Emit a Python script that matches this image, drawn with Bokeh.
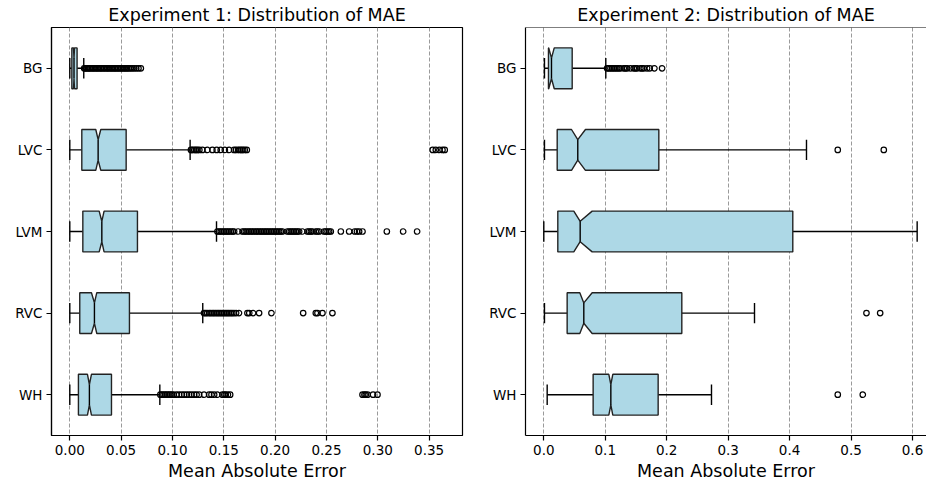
from bokeh.plotting import figure
from bokeh.models import Range1d, FixedTicker, NumeralTickFormatter, Span
from bokeh.layouts import row
from bokeh.embed import file_html
from bokeh.resources import INLINE

categories = ["BG", "LVC", "LVM", "RVC", "WH"]
positions = [1, 2, 3, 4, 5]

# ---------------- Experiment 1 ----------------
exp1_whislo = [0.0, 0.0, 0.0, 0.0, 0.0]
exp1_q1 = [0.0020, 0.0117, 0.0127, 0.0097, 0.0084]
exp1_cilo = [0.0036, 0.0253, 0.0286, 0.0211, 0.0172]
exp1_med = [0.0041, 0.0276, 0.0312, 0.0240, 0.0191]
exp1_cihi = [0.0046, 0.0302, 0.0334, 0.0263, 0.0211]
exp1_q3 = [0.0071, 0.0549, 0.0659, 0.0581, 0.0406]
exp1_whishi = [0.0136, 0.1172, 0.1429, 0.1295, 0.0877]

exp1_fliers_BG = [0.0140, 0.0151, 0.0166, 0.0178, 0.0191, 0.0203, 0.0218, 0.0230, 0.0245,
                  0.0257, 0.0271, 0.0284, 0.0299, 0.0311, 0.0326, 0.0338, 0.0354, 0.0366,
                  0.0381, 0.0393, 0.0409, 0.0420, 0.0436, 0.0448, 0.0463, 0.0475, 0.0491,
                  0.0502, 0.0518, 0.0530, 0.0546, 0.0557, 0.0573, 0.0589, 0.0607, 0.0626,
                  0.0647, 0.0669, 0.0692]
exp1_fliers_LVC = [0.1180, 0.1195, 0.1212, 0.1228, 0.1243, 0.1262, 0.1292, 0.1340, 0.1389,
                   0.1431, 0.1470, 0.1510, 0.1552, 0.1600, 0.1620, 0.1640, 0.1656, 0.1672,
                   0.1688, 0.1704, 0.1724, 0.3535, 0.3565, 0.3600, 0.3630, 0.3652]
exp1_fliers_LVM = [0.1438, 0.1455, 0.1471, 0.1487, 0.1503, 0.1520, 0.1536, 0.1552, 0.1568,
                   0.1585, 0.1601, 0.1640, 0.1682, 0.1698, 0.1714, 0.1731, 0.1747, 0.1763,
                   0.1779, 0.1796, 0.1812, 0.1828, 0.1844, 0.1860, 0.1876, 0.1893, 0.1909,
                   0.1925, 0.1941, 0.1958, 0.1974, 0.1990, 0.2006, 0.2022, 0.2039, 0.2055,
                   0.2071, 0.2120, 0.2137, 0.2153, 0.2169, 0.2185, 0.2202, 0.2218, 0.2234,
                   0.2266, 0.2315, 0.2331, 0.2348, 0.2364, 0.2396, 0.2412, 0.2429, 0.2477,
                   0.2493, 0.2510, 0.2526, 0.2542, 0.2640, 0.2721, 0.2776, 0.2797, 0.2818,
                   0.2851, 0.3088, 0.3247, 0.3383]
exp1_fliers_RVC = [0.1307, 0.1322, 0.1338, 0.1356, 0.1372, 0.1389, 0.1404, 0.1420, 0.1437,
                   0.1453, 0.1470, 0.1486, 0.1502, 0.1518, 0.1534, 0.1550, 0.1566, 0.1582,
                   0.1599, 0.1620, 0.1648, 0.1730, 0.1748, 0.1785, 0.1844, 0.1964, 0.2273,
                   0.2396, 0.2412, 0.2461, 0.2558]
exp1_fliers_WH = [0.0882, 0.0898, 0.0914, 0.0930, 0.0946, 0.0962, 0.0978, 0.0994, 0.1010,
                  0.1040, 0.1065, 0.1090, 0.1114, 0.1140, 0.1162, 0.1185, 0.1211, 0.1235,
                  0.1260, 0.1308, 0.1357, 0.1380, 0.1406, 0.1438, 0.1487, 0.1505, 0.1519,
                  0.1540, 0.1562, 0.2851, 0.2870, 0.2883, 0.2900, 0.2954, 0.2997]

# ---------------- Experiment 2 ----------------
exp2_whislo = [0.0011, 0.0011, 0.0000, 0.0011, 0.0055]
exp2_q1 = [0.0076, 0.0218, 0.0228, 0.0380, 0.0803]
exp2_cilo = [0.0080, 0.0451, 0.0488, 0.0586, 0.1058]
exp2_med = [0.0125, 0.0553, 0.0592, 0.0651, 0.1091]
exp2_cihi = [0.0170, 0.0678, 0.0787, 0.0787, 0.1123]
exp2_q3 = [0.0462, 0.1872, 0.4052, 0.2246, 0.1861]
exp2_whishi = [0.1009, 0.4275, 0.6076, 0.3429, 0.2729]

exp2_fliers_BG = [0.1030, 0.1057, 0.1084, 0.1111, 0.1138, 0.1165, 0.1193, 0.1220, 0.1247,
                  0.1301, 0.1328, 0.1355, 0.1410, 0.1464, 0.1491, 0.1518, 0.1572, 0.1600,
                  0.1627, 0.1681, 0.1724, 0.1800, 0.1925]
exp2_fliers_LVC = [0.4784, 0.5533]
exp2_fliers_LVM = []
exp2_fliers_RVC = [0.5251, 0.5474]
exp2_fliers_WH = [0.4784, 0.5191]

exp1_ticks = [0.0, 0.05, 0.10, 0.15, 0.20, 0.25, 0.30, 0.35]
exp2_ticks = [0.0, 0.1, 0.2, 0.3, 0.4, 0.5, 0.6]

FONT = "DejaVu Sans"
BOX_W = 0.5


def make_fig(title, whislo, q1, cilo, med, cihi, q3, whishi, fliers, xr, ticks, fmt,
             frame_width, border_left, border_right, full_outline):
    p = figure(frame_width=frame_width, frame_height=408,
               x_range=Range1d(*xr), y_range=Range1d(5.5, 0.5),
               output_backend="svg", toolbar_location=None, title=title,
               min_border_left=border_left, min_border_right=border_right,
               min_border_top=0, min_border_bottom=0)
    h = BOX_W / 2
    qq = BOX_W / 4
    xs, ys = [], []
    for i, pos in enumerate(positions):
        xs.append([q1[i], q1[i], cilo[i], med[i], cihi[i], q3[i], q3[i], cihi[i], med[i], cilo[i], q1[i]])
        ys.append([pos - h, pos + h, pos + h, pos + qq, pos + h, pos + h, pos - h, pos - h, pos - qq, pos - h, pos - h])
    lo = [y - qq for y in positions]
    hi = [y + qq for y in positions]
    p.segment(x0=q1, y0=positions, x1=whislo, y1=positions, line_color="black", line_width=1.4)
    p.segment(x0=q3, y0=positions, x1=whishi, y1=positions, line_color="black", line_width=1.4)
    p.segment(x0=whislo, y0=lo, x1=whislo, y1=hi, line_color="black", line_width=1.4)
    p.segment(x0=whishi, y0=lo, x1=whishi, y1=hi, line_color="black", line_width=1.4)
    p.patches(xs, ys, fill_color="#add8e6", line_color="#222222", line_width=1.4)
    p.segment(x0=med, y0=lo, x1=med, y1=hi, line_color="black", line_width=1.4)
    fx, fy = [], []
    for i, fl in enumerate(fliers):
        fx.extend(fl)
        fy.extend([positions[i]] * len(fl))
    p.scatter(fx, fy, marker="circle", size=5.5, fill_color=None, line_color="black", line_width=1.2)

    p.title.align = "center"
    p.title.text_font = FONT
    p.title.text_font_size = "17.5px"
    p.title.text_font_style = "normal"
    p.title.text_color = "black"
    p.title.standoff = 5

    p.xaxis.ticker = FixedTicker(ticks=ticks)
    p.xaxis.formatter = NumeralTickFormatter(format=fmt)
    p.yaxis.ticker = FixedTicker(ticks=positions)
    p.yaxis.major_label_overrides = {pos: c for pos, c in zip(positions, categories)}
    p.xaxis.axis_label = "Mean Absolute Error"
    p.xaxis.axis_label_text_font = FONT
    p.xaxis.axis_label_text_font_size = "17.5px"
    p.xaxis.axis_label_text_font_style = "normal"
    p.xaxis.axis_label_text_color = "black"
    p.xaxis.axis_label_standoff = 3
    for ax in (p.xaxis, p.yaxis):
        ax.major_label_text_font = FONT
        ax.major_label_text_font_size = "13.5px"
        ax.major_label_text_color = "black"
        ax.major_tick_out = 5
        ax.major_tick_in = 0
        ax.minor_tick_out = 0
        ax.minor_tick_in = 0
        ax.major_tick_line_color = "black"
        ax.major_tick_line_width = 1.2
        ax.axis_line_color = "black"
        ax.axis_line_width = 1.2
    p.xaxis.major_label_standoff = 4
    p.yaxis.major_label_standoff = 4
    p.ygrid.visible = False
    p.xgrid.grid_line_color = "#9a9a9a"
    p.xgrid.grid_line_dash = "4 2"
    p.xgrid.grid_line_width = 1
    if full_outline:
        p.outline_line_color = "black"
        p.outline_line_width = 1.2
    else:
        p.outline_line_color = None
        p.add_layout(Span(location=0.5, dimension="width", line_color="black", line_width=1.2))
    p.background_fill_color = "white"
    p.border_fill_color = "white"
    return p


p1 = make_fig("Experiment 1: Distribution of MAE", exp1_whislo, exp1_q1, exp1_cilo, exp1_med,
              exp1_cihi, exp1_q3, exp1_whishi,
              [exp1_fliers_BG, exp1_fliers_LVC, exp1_fliers_LVM, exp1_fliers_RVC, exp1_fliers_WH],
              (-0.01782, 0.3825), exp1_ticks, "0.00", 411, 51, 10, True)
p2 = make_fig("Experiment 2: Distribution of MAE", exp2_whislo, exp2_q1, exp2_cilo, exp2_med,
              exp2_cihi, exp2_q3, exp2_whishi,
              [exp2_fliers_BG, exp2_fliers_LVC, exp2_fliers_LVM, exp2_fliers_RVC, exp2_fliers_WH],
              (-0.02978, 0.6228), exp2_ticks, "0.0", 401, 53, 0, False)

layout = row(p1, p2)
open("out.html", "w").write(file_html(layout, INLINE))
